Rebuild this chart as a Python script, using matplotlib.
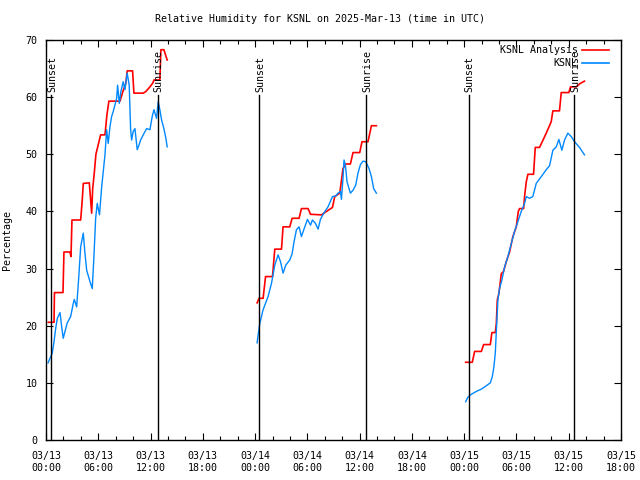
import matplotlib
matplotlib.use("Agg")
import matplotlib.pyplot as plt
from matplotlib.ticker import MultipleLocator

# ---- data (hours since 2025-03-13 00:00 UTC, relative humidity %) ----
analysis_h1 = [0.26, 0.92, 0.97, 1.95, 2.06, 2.75, 2.87, 2.98, 3.98, 4.16, 4.28, 4.97, 5.24, 5.36,
               5.54, 5.73, 6.27, 6.77, 7.0, 7.22, 8.49, 8.83, 9.17, 9.32, 9.94, 10.09, 11.16,
               11.47, 11.93, 12.27, 12.39, 13.07, 13.19, 13.53, 13.91]
analysis_v1 = [20.6, 20.6, 25.8, 25.8, 32.9, 32.9, 32.1, 38.5, 38.5, 42.0, 44.9, 45.0, 39.7, 44.0,
               46.7, 50.0, 53.4, 53.4, 57.0, 59.3, 59.3, 61.0, 62.5, 64.6, 64.6, 60.7, 60.7,
               61.0, 61.8, 62.5, 63.0, 63.0, 68.3, 68.3, 66.5]
analysis_h2 = [24.23, 24.46, 24.92, 25.20, 26.00, 26.26, 27.03, 27.21, 27.98, 28.25, 29.05, 29.32,
               30.08, 30.36, 31.62, 32.19, 32.88, 33.14, 33.72, 34.09, 34.40, 34.94, 35.24, 36.01,
               36.27, 36.96, 37.35, 37.92]
analysis_v2 = [24.0, 24.8, 24.8, 28.6, 28.6, 33.4, 33.4, 37.3, 37.3, 38.8, 38.8, 40.5,
               40.5, 39.5, 39.4, 40.0, 40.7, 42.6, 43.2, 47.5, 48.3, 48.3, 50.3, 50.3,
               52.2, 52.2, 55.0, 55.0]
analysis_h3 = [48.17, 48.93, 49.20, 49.97, 50.23, 51.00, 51.18, 51.57, 51.69, 51.80, 51.99, 52.15,
               52.26, 52.52, 52.83, 53.21, 53.59, 53.98, 54.21, 54.36, 54.82, 54.93, 55.13, 55.31,
               55.96, 56.16, 56.65, 57.42, 57.99, 58.18, 58.94, 59.14, 60.01, 60.21, 60.86,
               61.32, 61.81]
analysis_v3 = [13.6, 13.6, 15.5, 15.5, 16.7, 16.7, 18.8, 18.8, 20.4, 24.5, 25.7, 27.7,
               29.1, 29.5, 31.2, 32.9, 35.6, 37.3, 40.0, 40.5, 40.5, 42.6, 45.2, 46.5,
               46.5, 51.2, 51.2, 53.7, 55.7, 57.6, 57.6, 60.8, 60.8, 61.8, 61.8,
               62.4, 62.8]

obs_h1 = [0.23, 0.72, 0.92, 1.11, 1.30, 1.61, 1.80, 1.98, 2.18, 2.44, 2.83, 3.13, 3.25, 3.52,
          3.75, 3.98, 4.28, 4.47, 4.67, 5.05, 5.31, 5.50, 5.70, 5.88, 6.14, 6.39, 6.77, 6.96,
          7.14, 7.34, 7.53, 7.72, 8.11, 8.22, 8.41, 8.60, 8.86, 9.06, 9.32, 9.55, 9.71, 9.83,
          10.01, 10.21, 10.47, 10.67, 10.86, 11.16, 11.55, 11.93, 12.19, 12.39, 12.69, 12.88,
          13.07, 13.27, 13.53, 13.76, 13.91]
obs_v1 = [13.5, 15.2, 17.2, 19.5, 21.3, 22.3, 19.8, 17.8, 19.0, 20.5, 21.6, 23.9, 24.6, 23.3,
          28.3, 33.8, 36.2, 32.7, 29.7, 27.7, 26.5, 32.1, 38.8, 41.4, 39.4, 44.3, 49.9, 54.3,
          51.9, 54.8, 56.6, 57.5, 59.8, 62.1, 58.9, 61.0, 62.7, 61.3, 64.2, 62.1, 54.5, 52.5,
          54.0, 54.5, 50.8, 51.6, 52.5, 53.4, 54.5, 54.3, 56.6, 57.8, 56.3, 59.2,
          57.8, 56.0, 54.5, 52.8, 51.3]
obs_h2 = [24.23, 24.35, 24.54, 24.92, 25.49, 25.88, 26.26, 26.64, 26.92, 27.21, 27.52, 27.98,
          28.25, 28.47, 28.75, 29.05, 29.32, 29.59, 30.01, 30.36, 30.58, 30.93, 31.23, 31.50,
          31.88, 32.37, 32.88, 33.26, 33.52, 33.80, 33.91, 34.09, 34.21, 34.37, 34.55, 34.94,
          35.24, 35.55, 35.81, 36.09, 36.39, 36.70, 37.08, 37.35, 37.61, 37.92]
obs_v2 = [17.0, 18.4, 20.4, 22.8, 25.1, 27.4, 30.6, 32.4, 31.2, 29.2, 30.6, 31.5,
          32.6, 34.7, 36.8, 37.3, 35.6, 36.8, 38.6, 37.6, 38.5, 37.9, 36.9, 38.6,
          39.7, 40.8, 42.6, 42.7, 43.2, 43.5, 42.1, 45.8, 49.0, 48.1, 45.2, 43.2,
          43.7, 44.6, 46.7, 48.2, 48.8, 48.7, 47.5, 46.1, 44.0, 43.2]
obs_h3 = [48.17, 48.43, 48.82, 49.39, 49.97, 50.54, 51.00, 51.23, 51.41, 51.57, 51.69, 51.87,
          52.06, 52.33, 52.64, 53.02, 53.41, 53.78, 54.16, 54.55, 54.93, 55.13, 55.50, 55.88,
          56.27, 56.85, 57.42, 57.80, 58.18, 58.57, 58.87, 59.21, 59.52, 59.90, 60.29, 60.67,
          61.24, 61.81]
obs_v3 = [6.7, 7.5, 8.0, 8.5, 8.9, 9.5, 10.0, 11.1, 12.8, 15.2, 19.0, 24.5,
          26.5, 28.0, 30.3, 32.1, 34.4, 36.5, 38.2, 40.0, 41.4, 42.6, 42.3, 42.6,
          44.9, 46.1, 47.3, 48.0, 50.7, 51.3, 52.6, 50.7, 52.5, 53.7, 53.1, 52.2,
          51.2, 49.9]

sun_hours = [0.54, 12.80, 24.46, 36.70, 48.50, 60.66]
sun_labels = ["Sunset", "Sunrise", "Sunset", "Sunrise", "Sunset", "Sunrise"]

tick_hours = [0, 6, 12, 18, 24, 30, 36, 42, 48, 54, 60, 66]
tick_labels = ["03/13\n00:00", "03/13\n06:00", "03/13\n12:00", "03/13\n18:00",
               "03/14\n00:00", "03/14\n06:00", "03/14\n12:00", "03/14\n18:00",
               "03/15\n00:00", "03/15\n06:00", "03/15\n12:00", "03/15\n18:00"]

title = "Relative Humidity for KSNL on 2025-Mar-13 (time in UTC)"
series_names = ["KSNL Analysis", "KSNL"]

# ---- drawing ----
plt.rcParams['font.family'] = ['DejaVu Sans Mono']
FS = 7.2
RED = '#ff0000'
BLUE = '#0088ff'

fig = plt.figure(figsize=(6.4, 4.8), dpi=100)
ax = fig.add_axes([46/640, 40/480, 575/640, 400/480])

for h, v in [(analysis_h1, analysis_v1), (analysis_h2, analysis_v2), (analysis_h3, analysis_v3)]:
    ax.plot(h, v, color=RED, lw=1.2)
for h, v in [(obs_h1, obs_v1), (obs_h2, obs_v2), (obs_h3, obs_v3)]:
    ax.plot(h, v, color=BLUE, lw=1.0)

for h, lab in zip(sun_hours, sun_labels):
    ax.plot([h, h], [0, 60.4], color='black', lw=1.0)
    ax.text(h + 0.15, 60.9, lab, rotation=90, ha='center', va='bottom', fontsize=FS)

ax.set_xlim(0, 66)
ax.set_ylim(0, 70)
ax.set_xticks(tick_hours)
ax.set_xticklabels(tick_labels, fontsize=FS)
ax.xaxis.set_minor_locator(MultipleLocator(2))
ax.set_yticks(range(0, 71, 10))
ax.set_yticklabels([str(t) for t in range(0, 71, 10)], fontsize=FS)
ax.tick_params(which='major', direction='in', length=5, width=0.8, top=True, right=True)
ax.tick_params(which='minor', direction='in', length=3, width=0.8, top=True, right=True)
ax.tick_params(axis='x', pad=8)
ax.tick_params(axis='y', pad=6)
for s in ax.spines.values():
    s.set_linewidth(1.0)

ax.set_ylabel("Percentage", fontsize=FS, labelpad=10)
fig.text(0.5, 1 - 19/480, title, ha='center', va='center', fontsize=FS)

# legend (gnuplot style: text right-aligned, sample line to the right)
for i, (name, col) in enumerate(zip(series_names, [RED, BLUE])):
    yy = 0.975 - i * 0.0325
    ax.text(0.925, yy, name, transform=ax.transAxes, ha='right', va='center', fontsize=FS)
    ax.plot([0.932, 0.979], [yy, yy], transform=ax.transAxes, color=col, lw=1.2)

fig.savefig("out.png", dpi=100)
